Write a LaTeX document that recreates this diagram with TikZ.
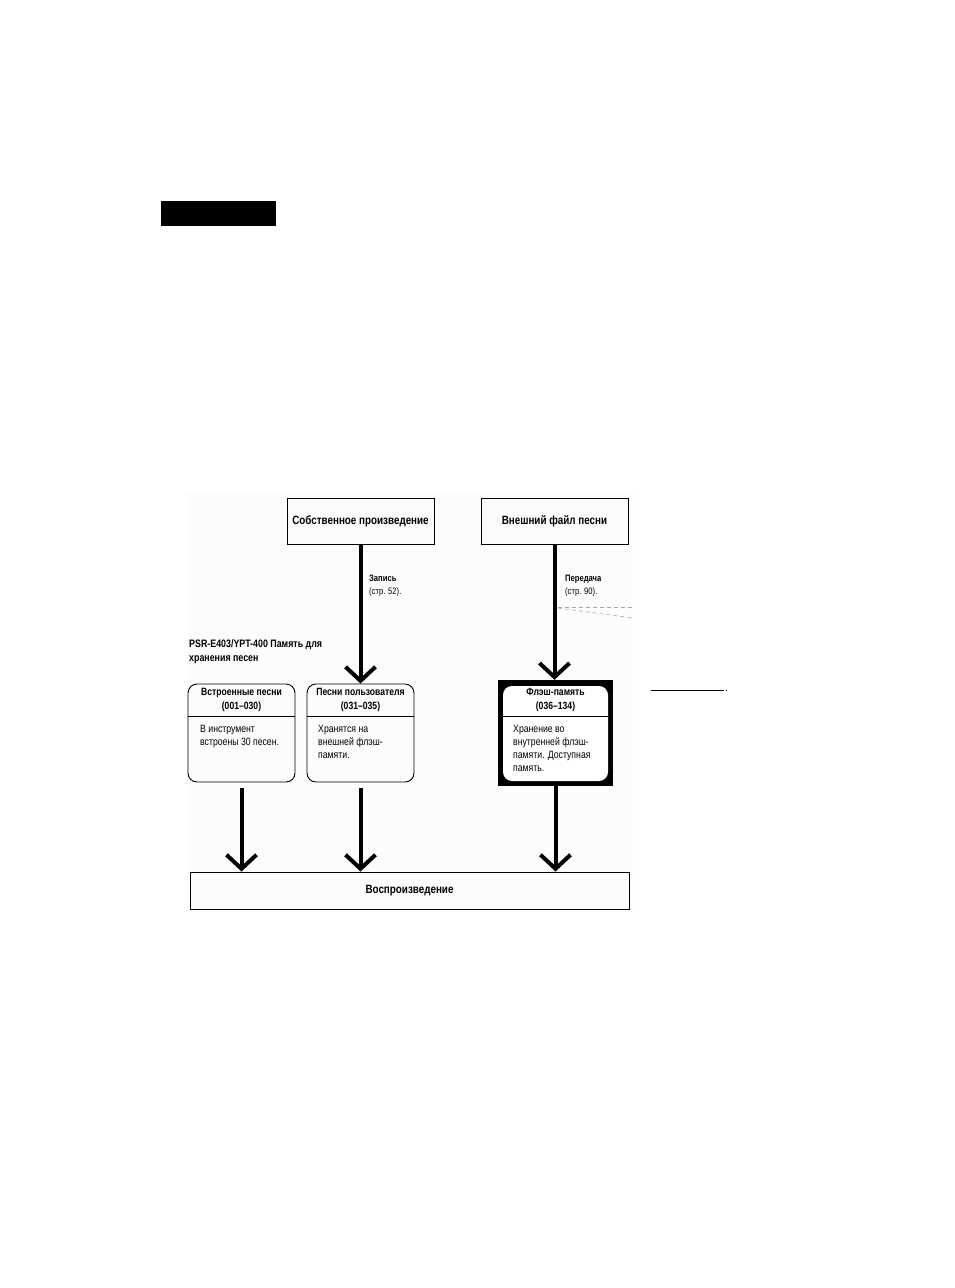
\documentclass[tikz,border=0pt]{standalone}
\usepackage{fontspec}
\setmainfont{Liberation Sans}[FakeStretch=0.82]
\usetikzlibrary{arrows.meta}
\begin{document}
\begin{tikzpicture}[x=1pt,y=-1pt,
  topbox/.style={draw,line width=1pt,minimum width=147pt,minimum height=46pt,inner sep=0pt,font=\fontsize{12}{14}\selectfont\bfseries},
  memboxr/.style={draw,line width=0.9pt,rounded corners=9pt,minimum width=107pt,minimum height=98pt,inner sep=0pt},
  title/.style={align=center,inner sep=0pt,font=\fontsize{10.5}{14}\selectfont\bfseries},
  body/.style={align=left,inner sep=0pt,anchor=north west,font=\fontsize{10.6}{13}\selectfont},
  lbl/.style={align=left,inner sep=0pt,anchor=north west,font=\fontsize{9.3}{13}\selectfont},
  bigarrow/.style={line width=4pt,-{Straight Barb[length=14pt,width=30pt,line width=4pt]}},
  dashedline/.style={gray!70,line width=0.6pt,dash pattern=on 4pt off 3pt}]
\useasboundingbox (0,0) rectangle (954,1288);
\fill[white] (0,0) rectangle (954,1288);
% faint background panel
\fill[black!1.2] (187,493) rectangle (633,912);
% black tab
\fill[black] (161,201) rectangle (276,226);

% top boxes
\node[topbox] (own) at (360.5,521) {Собственное произведение};
\node[topbox] (ext) at (554.5,521) {Внешний файл песни};

% memory heading
\node[lbl,font=\fontsize{10.8}{14}\selectfont\bfseries] (head) at (189,639) {PSR-E403/YPT-400 Память для\\хранения песен};

% preset songs box
\node[memboxr] (pre) at (241.5,733) {};
\draw[line width=0.6pt] (188,716) -- (295,716);
\node[title] (pret) at (241.5,699.5) {Встроенные песни\\(001–030)};
\node[body] (preb) at (200,724.5) {В инструмент\\встроены 30 песен.};

% user songs box
\node[memboxr] (usr) at (360.5,733) {};
\draw[line width=0.6pt] (307,716) -- (414,716);
\node[title] (usrt) at (360.5,699.5) {Песни пользователя\\(031–035)};
\node[body] (usrb) at (318,724.5) {Хранятся на\\внешней флэш-\\памяти.};

% flash box
\node[fill=black,minimum width=115pt,minimum height=106pt,inner sep=0pt] (fla) at (555.5,733) {};
\node[fill=white,rounded corners=9pt,minimum width=105pt,minimum height=95pt,inner sep=0pt] (flai) at (555.5,733.5) {};
\draw[line width=0.6pt] (503,716) -- (608,716);
\node[title] (flat) at (555.5,699.5) {Флэш-память\\(036–134)};
\node[body] (flab) at (513,724.5) {Хранение во\\внутренней флэш-\\памяти. Доступная\\память.};

% playback box
\node[draw,line width=1pt,minimum width=439pt,minimum height=37pt,inner sep=0pt,font=\fontsize{12}{13}\selectfont\bfseries] (play) at (409.5,890.5) {Воспроизведение};

% arrows from top
\draw[bigarrow] (own.south) -- (own.south |- usr.north);
\node[lbl] (rec) at (369,575) {\textbf{Запись}\\(стр. 52).};
\draw[bigarrow] (ext.south) -- (ext.south |- fla.north);
\node[lbl] (tr) at (565,575) {\textbf{Передача}\\(стр. 90).};

% dashed leader lines
\coordinate (d0) at (558,607);
\coordinate (d1) at (633,607);
\coordinate (d2) at (558,608);
\coordinate (d3) at (633,618);
\draw[dashedline] (d0) -- (d1);
\draw[dashedline] (d2) -- (d3);

% arrows down to playback
\draw[bigarrow,shorten <=6pt] (pre.south) -- (pre.south |- play.north);
\draw[bigarrow,shorten <=6pt] (usr.south) -- (usr.south |- play.north);
\draw[bigarrow] (fla.south) -- (fla.south |- play.north);

% small line on the right
\coordinate (s0) at (651,690);
\coordinate (s1) at (724,690);
\draw[line width=0.8pt] (s0) -- (s1);
\fill (726.5,690.5) circle (0.6pt);
\end{tikzpicture}
\end{document}
